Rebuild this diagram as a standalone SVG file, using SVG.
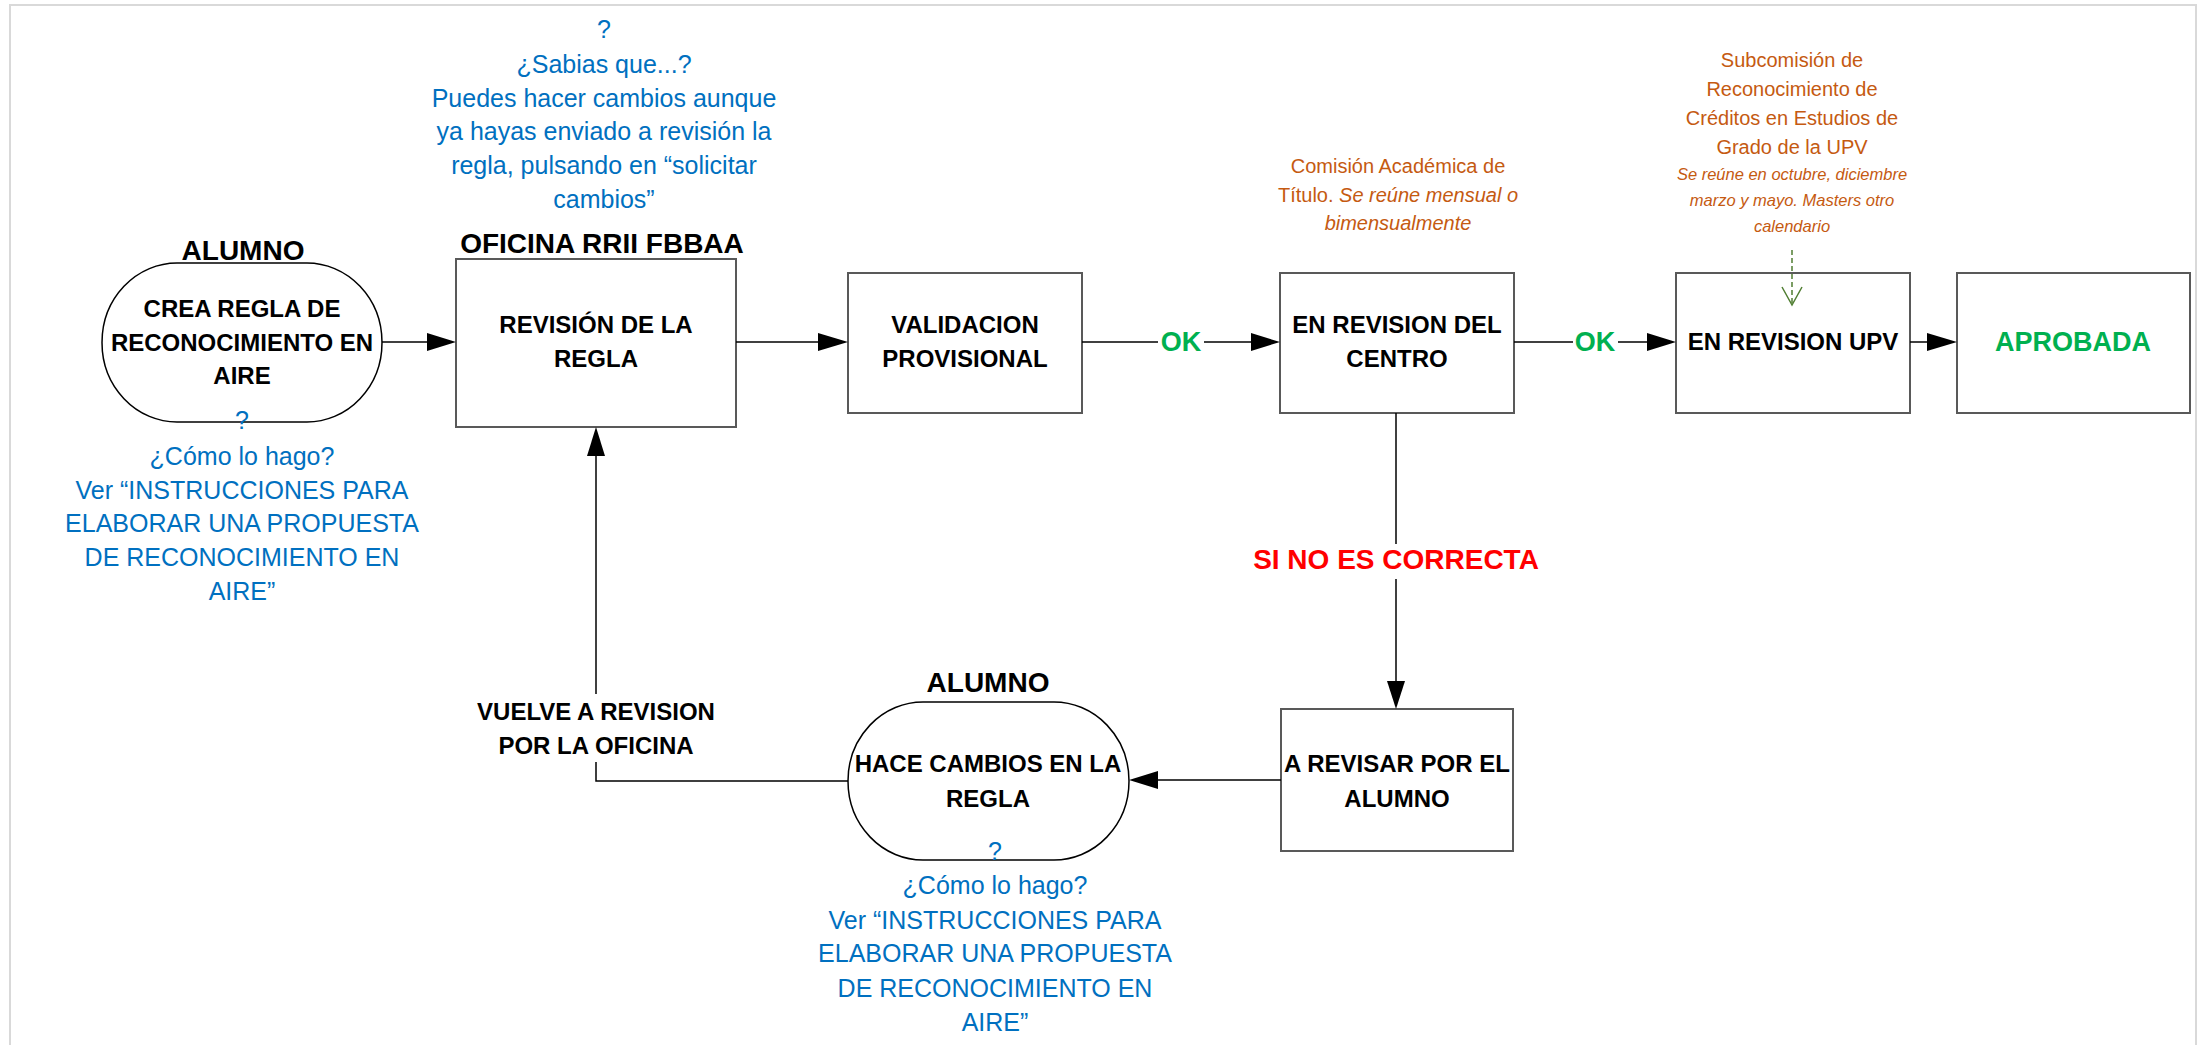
<svg xmlns="http://www.w3.org/2000/svg" width="2203" height="1045" viewBox="0 0 2203 1045">
<style>
.box{fill:#fff;stroke:#595959;stroke-width:2}
.st{fill:#fff;stroke:#000;stroke-width:1.5}
.b{font-family:"Liberation Sans",Arial,sans-serif;font-weight:bold;font-size:24px;fill:#000;text-anchor:middle}
.hd{font-family:"Liberation Sans",Arial,sans-serif;font-weight:bold;font-size:28px;fill:#000;text-anchor:middle}
.blue{font-family:"Liberation Sans",Arial,sans-serif;font-size:25px;fill:#0070C0;text-anchor:middle}
.or{font-family:"Liberation Sans",Arial,sans-serif;font-size:20px;fill:#C55A11;text-anchor:middle}
.ori{font-family:"Liberation Sans",Arial,sans-serif;font-size:16.5px;font-style:italic;fill:#C55A11;text-anchor:middle}
.ok{font-family:"Liberation Sans",Arial,sans-serif;font-weight:bold;font-size:27px;fill:#00B050;text-anchor:middle}
.red{font-family:"Liberation Sans",Arial,sans-serif;font-weight:bold;font-size:28px;fill:#FF0000;text-anchor:middle}
.ln{fill:none;stroke:#000;stroke-width:1.5}
.ah{fill:#000}
</style>
<rect x="0" y="0" width="2203" height="1045" fill="#fff"/>
<rect x="10" y="5" width="2186" height="1060" fill="none" stroke="#d9d9d9" stroke-width="2"/>

<g id="node-crea">
  <text class="hd" x="243" y="260">ALUMNO</text>
  <rect class="st" x="102" y="263" width="280" height="159" rx="75" ry="79.5"/>
  <text class="b" x="242" y="317">CREA REGLA DE</text>
  <text class="b" x="242" y="351">RECONOCIMIENTO EN</text>
  <text class="b" x="242" y="384">AIRE</text>
  <text class="blue" x="242" y="429">?</text>
  <text class="blue" x="242" y="465">¿Cómo lo hago?</text>
  <text class="blue" x="242" y="499">Ver “INSTRUCCIONES PARA</text>
  <text class="blue" x="242" y="532">ELABORAR UNA PROPUESTA</text>
  <text class="blue" x="242" y="566">DE RECONOCIMIENTO EN</text>
  <text class="blue" x="242" y="600">AIRE”</text>
</g>

<g id="node-revision">
  <text class="blue" x="604" y="38">?</text>
  <text class="blue" x="604" y="73">¿Sabias que...?</text>
  <text class="blue" x="604" y="107">Puedes hacer cambios aunque</text>
  <text class="blue" x="604" y="140">ya hayas enviado a revisión la</text>
  <text class="blue" x="604" y="174">regla, pulsando en “solicitar</text>
  <text class="blue" x="604" y="208">cambios”</text>
  <text class="hd" x="602" y="253">OFICINA RRII FBBAA</text>
  <rect class="box" x="456" y="259" width="280" height="168"/>
  <text class="b" x="596" y="333">REVISIÓN DE LA</text>
  <text class="b" x="596" y="367">REGLA</text>
</g>

<g id="node-validacion">
  <rect class="box" x="848" y="273" width="234" height="140"/>
  <text class="b" x="965" y="333">VALIDACION</text>
  <text class="b" x="965" y="367">PROVISIONAL</text>
</g>

<g id="node-centro">
  <text class="or" x="1398" y="173">Comisión Académica de</text>
  <text class="or" x="1398" y="202">Título.  <tspan font-style="italic">Se reúne mensual o</tspan></text>
  <text class="or" x="1398" y="230" font-style="italic">bimensualmente</text>
  <rect class="box" x="1280" y="273" width="234" height="140"/>
  <text class="b" x="1397" y="333">EN REVISION DEL</text>
  <text class="b" x="1397" y="367">CENTRO</text>
</g>

<g id="node-upv">
  <text class="or" x="1792" y="67">Subcomisión de</text>
  <text class="or" x="1792" y="96">Reconocimiento de</text>
  <text class="or" x="1792" y="125">Créditos en Estudios de</text>
  <text class="or" x="1792" y="154">Grado de la UPV</text>
  <text class="ori" x="1792" y="180">Se reúne en octubre, diciembre</text>
  <text class="ori" x="1792" y="206">marzo y mayo. Masters otro</text>
  <text class="ori" x="1792" y="232">calendario</text>
  <rect class="box" x="1676" y="273" width="234" height="140"/>
  <text class="b" x="1793" y="350">EN REVISION UPV</text>
</g>

<g id="node-aprobada">
  <rect class="box" x="1957" y="273" width="233" height="140"/>
  <text class="ok" x="2073" y="351" font-size="24">APROBADA</text>
</g>

<g id="node-arevisar">
  <rect class="box" x="1281" y="709" width="232" height="142"/>
  <text class="b" x="1397" y="772">A REVISAR POR EL</text>
  <text class="b" x="1397" y="807">ALUMNO</text>
</g>

<g id="node-cambios">
  <text class="hd" x="988" y="692">ALUMNO</text>
  <rect class="st" x="848" y="702" width="281" height="158" rx="75" ry="79"/>
  <text class="b" x="988" y="772">HACE CAMBIOS EN LA</text>
  <text class="b" x="988" y="807">REGLA</text>
  <text class="blue" x="995" y="860">?</text>
  <text class="blue" x="995" y="894">¿Cómo lo hago?</text>
  <text class="blue" x="995" y="929">Ver “INSTRUCCIONES PARA</text>
  <text class="blue" x="995" y="962">ELABORAR UNA PROPUESTA</text>
  <text class="blue" x="995" y="997">DE RECONOCIMIENTO EN</text>
  <text class="blue" x="995" y="1031">AIRE”</text>
</g>

<g id="connectors">
  <line class="ln" x1="382" y1="342" x2="428" y2="342"/>
  <polygon class="ah" points="427,333 456,342 427,351"/>
  <line class="ln" x1="736" y1="342" x2="820" y2="342"/>
  <polygon class="ah" points="818,333 848,342 818,351"/>
  <line class="ln" x1="1082" y1="342" x2="1158" y2="342"/>
  <line class="ln" x1="1204" y1="342" x2="1253" y2="342"/>
  <polygon class="ah" points="1251,333 1280,342 1251,351"/>
  <text class="ok" x="1181" y="351">OK</text>
  <line class="ln" x1="1514" y1="342" x2="1573" y2="342"/>
  <line class="ln" x1="1618" y1="342" x2="1649" y2="342"/>
  <polygon class="ah" points="1647,333 1676,342 1647,351"/>
  <text class="ok" x="1595" y="351">OK</text>
  <line class="ln" x1="1910" y1="342" x2="1929" y2="342"/>
  <polygon class="ah" points="1927,333 1957,342 1927,351"/>
  <line x1="1792" y1="250" x2="1792" y2="304" fill="none" stroke="#507E32" stroke-width="1.5" stroke-dasharray="5,3"/>
  <polyline points="1782,287 1792,305 1802,287" fill="none" stroke="#507E32" stroke-width="1.5"/>
  <line class="ln" x1="1396" y1="413" x2="1396" y2="544"/>
  <line class="ln" x1="1396" y1="579" x2="1396" y2="684"/>
  <polygon class="ah" points="1387,681 1396,709 1405,681"/>
  <text class="red" x="1396" y="569">SI NO ES CORRECTA</text>
  <line class="ln" x1="1281" y1="780" x2="1156" y2="780"/>
  <polygon class="ah" points="1158,771 1129,780 1158,789"/>
  <polyline class="ln" points="848,781 596,781 596,762"/>
  <line class="ln" x1="596" y1="694" x2="596" y2="454"/>
  <polygon class="ah" points="587,456 596,427 605,456"/>
  <text class="b" x="596" y="720">VUELVE A REVISION</text>
  <text class="b" x="596" y="754">POR LA OFICINA</text>
</g>
</svg>
